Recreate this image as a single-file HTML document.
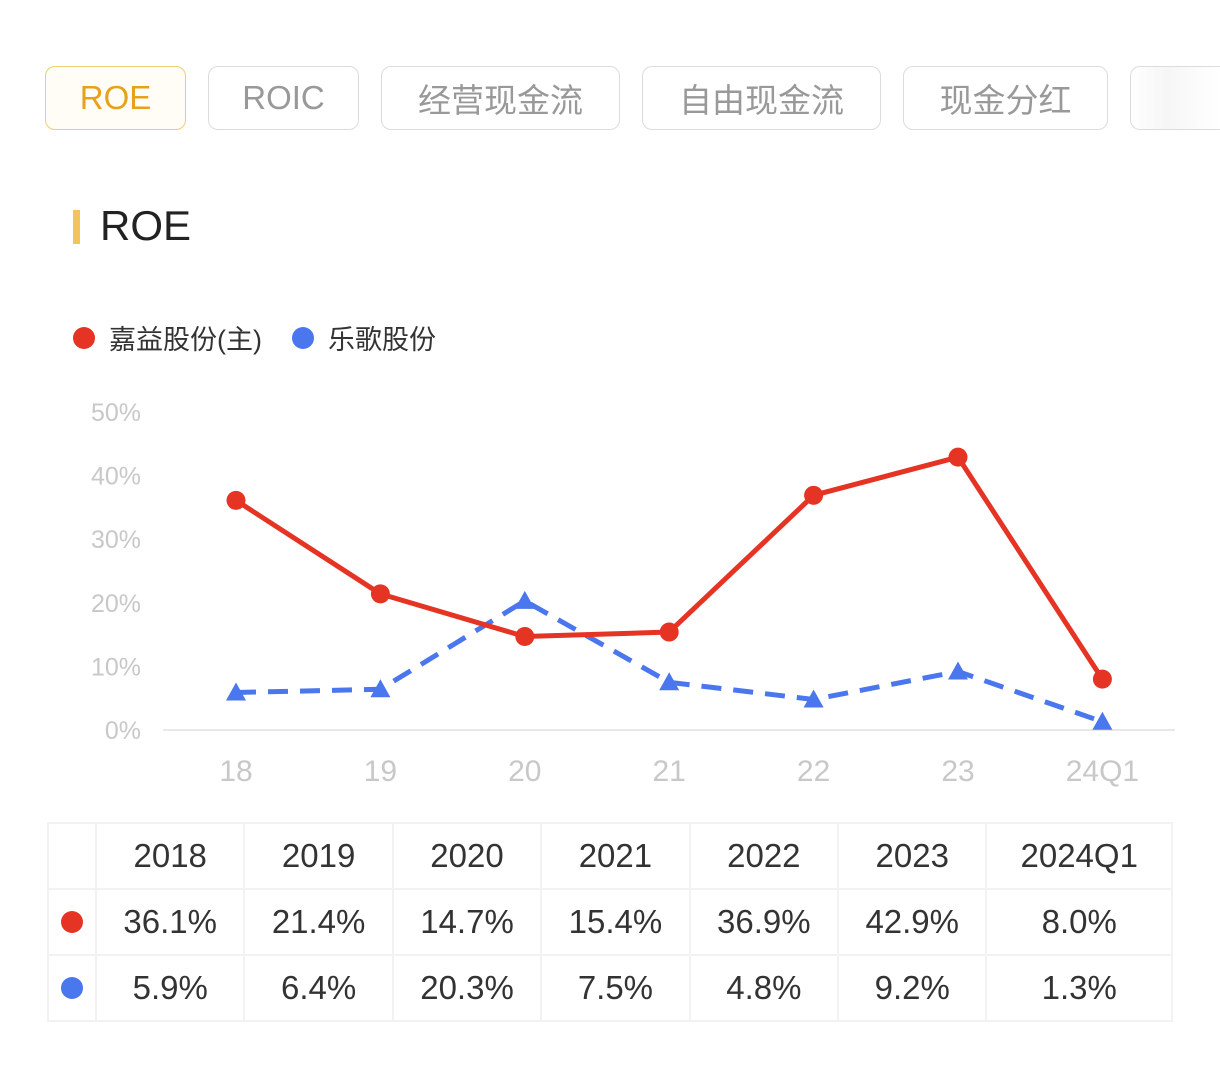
<!DOCTYPE html>
<html><head><meta charset="utf-8">
<style>
body{margin:0;width:1220px;height:1080px;background:#fff;font-family:"Liberation Sans","Noto Sans CJK SC",sans-serif;position:relative;overflow:hidden}
.tab{position:absolute;top:66px;height:64px;border:1.5px solid #dcdcdc;border-radius:10px;box-sizing:border-box;color:#999;font-size:33px;display:flex;align-items:center;justify-content:center}
.tab.on{border-color:#f0cd6e;color:#e7a21c;background:#fffdf6}
table{position:absolute;left:47px;top:822px;border-collapse:collapse;width:1126px}
td{border:2px solid #f2f2f2;height:64px;text-align:center;font-size:33px;color:#333;padding:0}
.dot{display:inline-block;width:22px;height:22px;border-radius:50%}
</style></head><body>
<div class="tab on" style="left:45px;width:141px">ROE</div>
<div class="tab" style="left:208px;width:151px">ROIC</div>
<div class="tab" style="left:381px;width:239px">经营现金流</div>
<div class="tab" style="left:642px;width:239px">自由现金流</div>
<div class="tab" style="left:903px;width:205px">现金分红</div>
<div class="tab" style="left:1130px;width:90px;border-right:none;border-radius:10px 0 0 10px;background:linear-gradient(90deg,#fff,#f6f6f6 40%,#fff)"></div>
<div style="position:absolute;left:73px;top:210px;width:7px;height:34px;background:#f2c55c"></div>
<div style="position:absolute;left:100px;top:202px;font-size:42px;color:#222">ROE</div>
<div style="position:absolute;left:73px;top:318px;font-size:27px;color:#333;display:flex;align-items:center">
<span class="dot" style="background:#e53424;margin-right:14px"></span><span>嘉益股份(主)</span>
<span class="dot" style="background:#4a76ee;margin:0 14px 0 30px"></span><span>乐歌股份</span></div>
<svg id="chart" width="1220" height="800" style="position:absolute;left:0;top:0"></svg>
<table>
<tr><td style="width:46px"></td><td>2018</td><td>2019</td><td>2020</td><td>2021</td><td>2022</td><td>2023</td><td>2024Q1</td></tr>
<tr><td><span class="dot" style="background:#e53424"></span></td><td>36.1%</td><td>21.4%</td><td>14.7%</td><td>15.4%</td><td>36.9%</td><td>42.9%</td><td>8.0%</td></tr>
<tr><td><span class="dot" style="background:#4a76ee"></span></td><td>5.9%</td><td>6.4%</td><td>20.3%</td><td>7.5%</td><td>4.8%</td><td>9.2%</td><td>1.3%</td></tr>
</table>
<script>
const categories=["18","19","20","21","22","23","24Q1"];
const jiayi=[36.1,21.4,14.7,15.4,36.9,42.9,8.0];
const lege=[5.9,6.4,20.3,7.5,4.8,9.2,1.3];
const yTicks=[0,10,20,30,40,50];
const NS="http://www.w3.org/2000/svg";
const svg=document.getElementById('chart');
const x=i=>236+i*144.4;
const y=v=>730-v*6.36;
function mk(t,a){const e=document.createElementNS(NS,t);for(const k in a)e.setAttribute(k,a[k]);svg.appendChild(e);return e;}
const base=mk('line',{x1:163,x2:1175,y1:730,y2:730,stroke:'#e8e8e8','stroke-width':2});


yTicks.forEach(v=>{const t=mk('text',{x:141,y:y(v)+9,'text-anchor':'end','font-size':25,fill:'#c8c8c8','font-family':'Liberation Sans'});t.textContent=v+'%';

});
categories.forEach((c,i)=>{const t=mk('text',{x:x(i),y:781,'text-anchor':'middle','font-size':30,fill:'#c8c8c8','font-family':'Liberation Sans'});t.textContent=c;

});
const pl=mk('polyline',{points:lege.map((v,i)=>x(i)+','+y(v)).join(' '),fill:'none',stroke:'#4a76ee','stroke-width':5,'stroke-dasharray':'20 12'});


lege.forEach((v,i)=>{const cx=x(i),cy=y(v);const p=mk('polygon',{points:`${cx},${cy-10} ${cx-10},${cy+8} ${cx+10},${cy+8}`,fill:'#4a76ee'});

});
const pr=mk('polyline',{points:jiayi.map((v,i)=>x(i)+','+y(v)).join(' '),fill:'none',stroke:'#e53424','stroke-width':5});


jiayi.forEach((v,i)=>{const c=mk('circle',{cx:x(i),cy:y(v),r:9.5,fill:'#e53424'});

});
</script>
</body></html>
